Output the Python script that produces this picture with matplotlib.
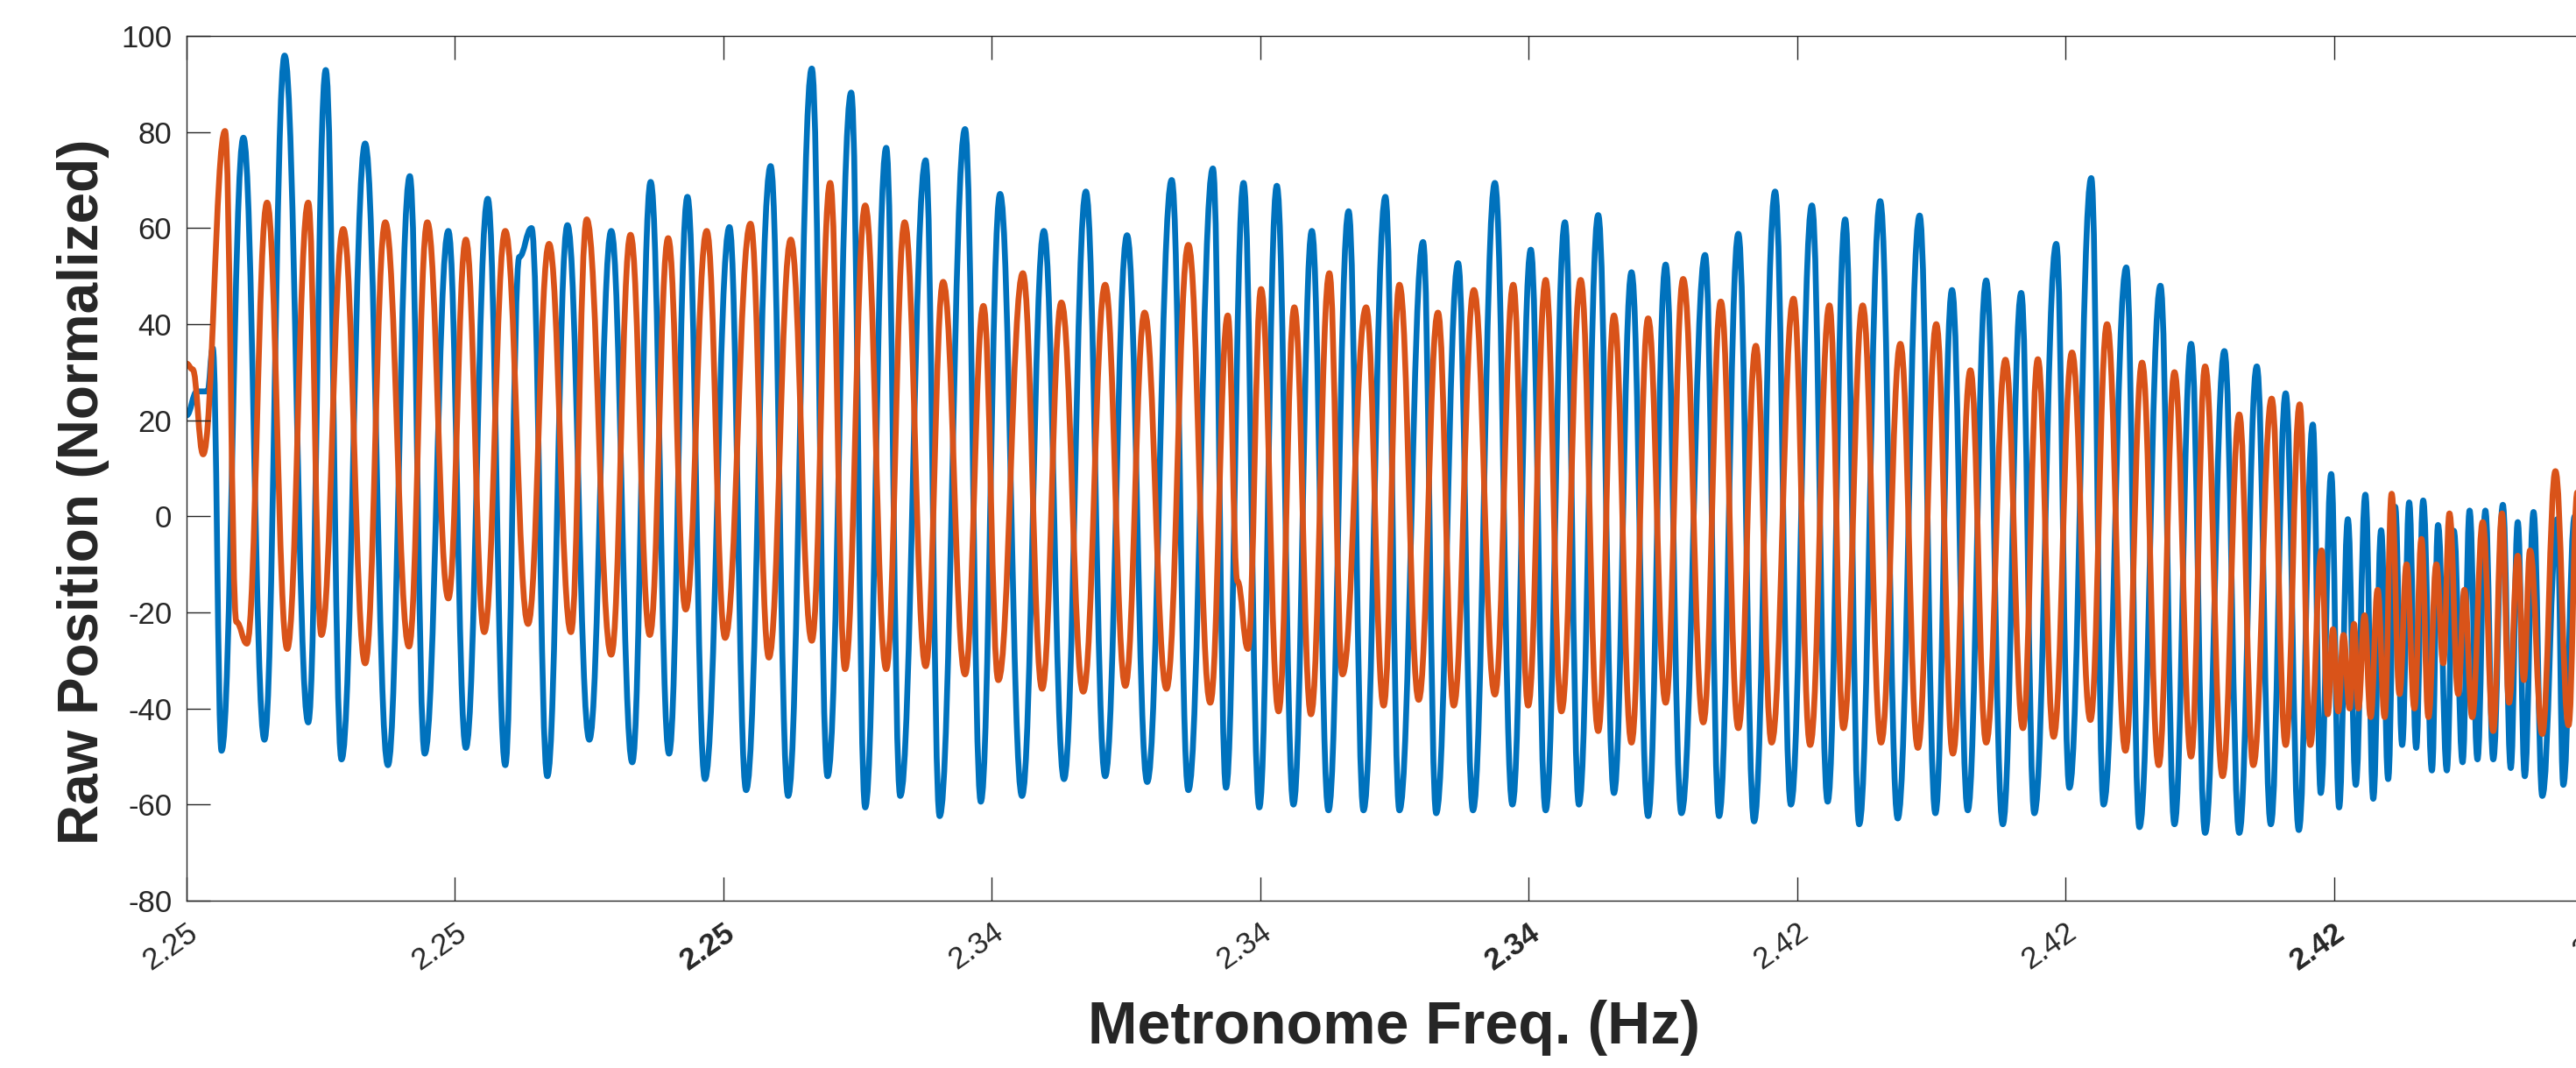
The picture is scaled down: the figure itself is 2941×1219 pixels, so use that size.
import matplotlib
matplotlib.use("Agg")
import matplotlib.pyplot as plt
from matplotlib.path import Path
from matplotlib.patches import PathPatch

plt.rcParams["font.family"] = ["Liberation Sans", "DejaVu Sans"]
plt.rcParams["axes.unicode_minus"] = False

# 读图得到的波峰/波谷 (x 为采样序号, y 为归一化位置)
blue_x = [0, 12, 24, 30, 40, 65, 89, 112, 139, 159, 177, 204, 230, 255, 272, 299, 319, 344, 364, 380, 394, 412, 435, 460,
          485, 509, 530, 551, 572, 592, 620, 639, 667, 687, 714, 732, 759, 775, 799, 815, 844, 860, 889, 907,
          929, 954, 979, 1002, 1027, 1049, 1074, 1097, 1125, 1144, 1172, 1187, 1207, 1225, 1245, 1264, 1285, 1304, 1327, 1344, 1369, 1385,
          1412, 1427, 1452, 1469, 1494, 1514, 1535, 1552, 1574, 1590, 1612, 1630, 1650, 1669, 1689, 1707, 1734, 1750, 1772, 1790, 1814, 1832,
          1856, 1874, 1894, 1910, 1934, 1954, 1979, 1997, 2016, 2034, 2055, 2074, 2095, 2110, 2135, 2150, 2175, 2189, 2215, 2230, 2254, 2270, 2289, 2305,
          2327, 2344, 2364, 2380, 2397, 2412, 2428, 2437, 2449, 2458, 2468, 2477, 2488, 2497, 2506, 2514,
          2522, 2530, 2538, 2546, 2554, 2564, 2571, 2581, 2589, 2599, 2607, 2616, 2625, 2634, 2645, 2654, 2662, 2670, 2680, 2690, 2707, 2714, 2727]
blue_y = [21, 26, 26, 35, -48.8, 78.8, -46.5, 95.9, -42.9, 92.9, -50.6, 77.6, -51.8, 70.8, -49.4, 59.4, -48.2, 66.1, -51.8, 54, 60, -54.1, 60.6, -46.5,
          59.4, -51.2, 69.6, -49.4, 66.5, -54.7, 60.2, -57, 72.9, -58.2, 93.2, -54.1, 88.2, -60.6, 76.7, -58.2, 74.1, -62.4, 80.6, -59.4,
          67.1, -58.2, 59.4, -54.7, 67.6, -54.1, 58.5, -55.3, 70, -57, 72.4, -56.5, 69.4, -60.6, 68.8, -60, 59.4, -61.2, 63.5, -61.2, 66.5, -61.2,
          57.1, -61.8, 52.7, -61.2, 69.4, -60, 55.5, -61.2, 61.2, -60, 62.7, -57.6, 50.8, -62.4, 52.4, -61.8, 54.4, -62.4, 58.8, -63.5, 67.6, -60,
          64.7, -59.4, 61.8, -64.1, 65.6, -62.9, 62.6, -61.8, 47.1, -61.2, 49.1, -64.1, 46.5, -61.8, 56.7, -56.5, 70.4, -60, 51.8, -64.7, 48, -64.1, 35.9, -65.9,
          34.4, -65.9, 31.2, -64.1, 25.6, -65.3, 19.1, -57.6, 8.8, -60.6, -0.6, -55.9, 4.5, -58.8, -2.9, -54.7,
          2, -47.6, 2.9, -48.2, 3.3, -52.9, -1.8, -52.9, -3, -51.2, 1.2, -50.6, 1.2, -50.6, 2.4, -52.4, -1.2, -54.1, 0.9, -58.2, -0.6, -55.9, 0]

orange_x = [0, 7, 19, 44, 57, 69, 92, 115, 139, 154, 179, 204, 227, 254, 275, 299, 319, 340, 364, 390, 414, 439, 457,
            485, 507, 529, 550, 570, 594, 615, 644, 665, 690, 714, 735, 752, 775, 799, 820, 844, 864, 889, 910, 927,
            955, 977, 999, 1024, 1049, 1072, 1094, 1119, 1144, 1169, 1189, 1200, 1212, 1227, 1247, 1265, 1284, 1305, 1320, 1347, 1367, 1385,
            1407, 1429, 1447, 1470, 1494, 1515, 1532, 1552, 1570, 1592, 1612, 1630, 1650, 1669, 1689, 1709, 1732, 1752, 1772, 1792, 1810, 1835,
            1854, 1876, 1892, 1914, 1935, 1957, 1977, 1998, 2017, 2037, 2055, 2077, 2097, 2114, 2132, 2153, 2174, 2193, 2214, 2233, 2252, 2270, 2289, 2305,
            2325, 2344, 2360, 2381, 2397, 2413, 2425, 2438, 2445, 2451, 2457, 2463, 2470, 2475, 2480, 2487, 2494, 2502, 2510, 2518, 2527,
            2535, 2544, 2552, 2560, 2569, 2577, 2584, 2594, 2601, 2610, 2622, 2634, 2644, 2652, 2662, 2669, 2676, 2690, 2705, 2720, 2730]
orange_y = [31.8, 30.6, 12.9, 80.2, -22, -26.5, 65.3, -27.6, 65.3, -24.7, 59.8, -30.6, 61.2, -27.1, 61.2, -17.1, 57.6, -24.1, 59.4, -22.4, 56.7, -24.1, 61.8,
            -28.8, 58.6, -24.7, 57.9, -19.4, 59.4, -25.3, 60.9, -29.4, 57.6, -25.9, 69.4, -31.8, 64.7, -31.8, 61.2, -31.2, 48.8, -32.9, 43.8, -34.1,
            50.6, -35.9, 44.5, -36.5, 48.2, -35.3, 42.4, -35.9, 56.5, -38.8, 41.8, -13.5, -27.6, 47.3, -40.6, 43.5, -41.2, 50.6, -32.9, 43.5, -39.4, 48.2,
            -38.2, 42.4, -39.4, 47.1, -37.1, 48.2, -39.4, 49.2, -40.6, 49.2, -44.7, 41.8, -47.1, 41.2, -38.8, 49.4, -42.9, 44.7, -44.1, 35.5, -47.1, 45.3,
            -47.6, 43.9, -44.1, 43.9, -47.1, 35.9, -48.2, 40, -49.4, 30.4, -47.1, 32.6, -44.1, 32.7, -45.9, 34.1, -42.4, 40, -48.8, 32, -51.8, 30, -50, 31.2,
            -54.1, 21.2, -51.8, 24.5, -47.6, 23.3, -47.6, -7.1, -41.2, -23.5, -40.6, -24.7, -40, -22.4, -40, -20.6, -41.8, -15.3, -41.8, 4.7, -37,
            -10, -40, -4.7, -41.8, -10, -30.6, 0.6, -37, -15.3, -41.8, -1.2, -44.7, 0.6, -38.8, -8.2, -34.1, -7.1, -45.3, 9.4, -43.5, 5]

tick_pos = [0, 306.5, 613, 919.5, 1226, 1532.5, 1839, 2145.5, 2452, 2758.5]
tick_labels = ["2.25", "2.25", "2.25", "2.34", "2.34", "2.34", "2.42", "2.42", "2.42", "2.5"]
bold_ticks = [2, 5, 8]


def wave(ax, xs, ys, color):
    # 波峰波谷之间用水平切线的贝塞尔曲线连接
    verts = [(xs[0], ys[0])]
    codes = [Path.MOVETO]
    for x0, y0, x1, y1 in zip(xs[:-1], ys[:-1], xs[1:], ys[1:]):
        d = (x1 - x0) * 0.42
        verts += [(x0 + d, y0), (x1 - d, y1), (x1, y1)]
        codes += [Path.CURVE4] * 3
    ax.add_patch(PathPatch(Path(verts, codes), fill=False, ec=color, lw=4.8,
                           joinstyle="round", capstyle="round"))


fig = plt.figure(figsize=(29.41, 12.19), dpi=100)
ax = fig.add_axes([0.0724, 0.1567, 0.9378, 0.8097])

wave(ax, blue_x, blue_y, "#0072BD")
wave(ax, orange_x, orange_y, "#D95319")

ax.set_xlim(0, 2758.5)
ax.set_ylim(-80, 100)
ax.set_yticks(range(-80, 101, 20))
ax.set_xticks(tick_pos)
ax.set_xticklabels(tick_labels)
for i, lab in enumerate(ax.get_xticklabels()):
    lab.set_rotation(35)
    lab.set_ha("right")
    lab.set_rotation_mode("anchor")
    if i in bold_ticks:
        lab.set_fontweight("bold")

ax.tick_params(direction="in", length=19.5, width=1.0, top=True, right=True,
               labelsize=25, colors="#262626")
ax.tick_params(axis="y", pad=12)
ax.tick_params(axis="x", pad=14)
for sp in ax.spines.values():
    sp.set_color("#262626")
    sp.set_linewidth(1.0)

ax.set_ylabel("Raw Position (Normalized)", fontsize=46, fontweight="bold", color="#262626")
ax.set_xlabel("Metronome Freq. (Hz)", fontsize=49, fontweight="bold", color="#262626")
ax.yaxis.set_label_coords(-0.032, 0.473)
ax.xaxis.set_label_coords(0.5, -0.114)

plt.savefig("out.png", dpi=100)
